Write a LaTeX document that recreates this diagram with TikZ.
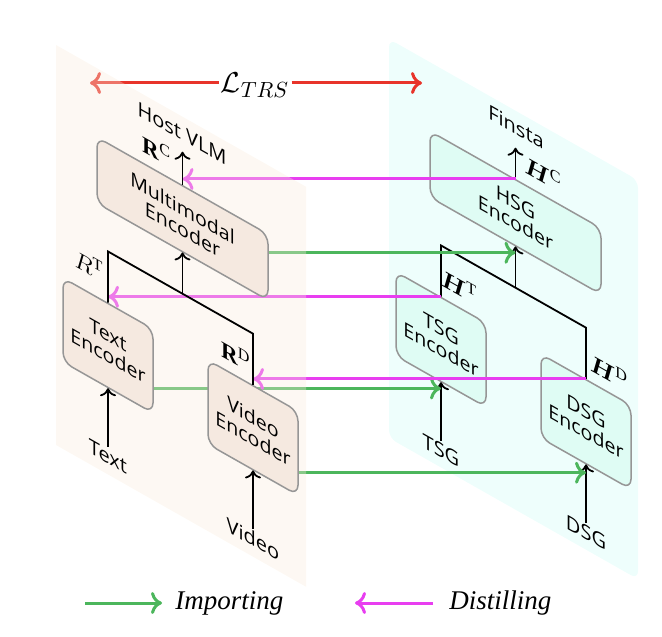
\documentclass[tikz,border=0pt]{standalone}
\usepackage{amsmath}
\usepackage{bm}
\usepackage{fontspec}
\setmainfont{Liberation Serif}
\newfontfamily\sketchfont{Open Sans}
\usetikzlibrary{arrows.meta}
\pgfdeclarelayer{planebg}
\pgfdeclarelayer{arrowlayer}
\pgfsetlayers{planebg,arrowlayer,main}

\definecolor{impgreen}{RGB}{76,182,92}
\definecolor{distmag}{RGB}{232,62,240}
\definecolor{lossred}{RGB}{232,52,42}
\definecolor{hostplane}{RGB}{249,236,220}
\definecolor{finplane}{RGB}{238,254,252}
\definecolor{hostbox}{RGB}{245,233,224}
\definecolor{finbox}{RGB}{223,252,244}
\definecolor{boxline}{RGB}{150,150,150}

\tikzset{
  encbox/.style={draw=boxline, line width=0.75pt, rounded corners=5pt, transform shape,
    align=center, inner sep=0pt, font=\sketchfont\fontsize{9.8}{10.5}\selectfont},
  bigbox/.style={encbox, minimum width=85.5pt, minimum height=33pt},
  smallbox/.style={encbox, minimum width=45pt, minimum height=42pt},
  hostfill/.style={fill=hostbox},
  finfill/.style={fill=finbox},
  sketchlabel/.style={transform shape, inner sep=1pt, font=\sketchfont\fontsize{10}{12}\selectfont},
  mathlabel/.style={transform shape, inner sep=0pt, font=\fontsize{11.5}{13}\selectfont},
  blk/.style={black, line width=0.9pt},
  blkarrow/.style={blk, -{To[length=4pt, width=8pt]}},
  colarrow/.style={line width=1.5pt, -{To[length=5.5pt, width=11pt]}},
  imparrow/.style={colarrow, impgreen},
  distarrow/.style={colarrow, distmag},
  lossarrow/.style={colarrow, lossred},
  legendtext/.style={font=\itshape\fontsize{13.5}{16}\selectfont, inner ysep=0pt},
}

\begin{document}
\begin{tikzpicture}[x=0.5pt, y=0.5pt]
\useasboundingbox (0,0) rectangle (662,636);

% ---------- Host VLM plane (left) ----------
\begin{scope}[shift={(56,591)}, yslant=-0.567]
  \fill[hostplane, fill opacity=0.35] (0,0) rectangle (250,-400);
  \node[sketchlabel] (host) at (126,-17) {Host VLM};
  \node[bigbox, hostfill] (mm) at (126.5,-102) {Multimodal\\Encoder};
  \node[smallbox, hostfill] (txt) at (52,-271) {Text\\Encoder};
  \node[smallbox, hostfill] (vid) at (197,-271) {Video\\Encoder};
  \node[sketchlabel] (textlab) at (52,-382) {Text};
  \node[sketchlabel] (videolab) at (197,-382) {Video};
  \coordinate (lbarL) at (52,-177);
  \coordinate (lbarR) at (197,-177);
  \coordinate (lbarM) at (126.5,-177);
  \coordinate (mmtop) at (126.5,-35);
  \draw[blkarrow] (textlab.north) -- (txt.south);
  \draw[blkarrow] (videolab.north) -- (vid.south);
  \draw[blk] (txt.north) -- (lbarL) -- (lbarR) -- (vid.north);
  \draw[blkarrow] (lbarM) -- (mm.south);
  \draw[blkarrow] (mm.north) -- (mmtop);
  \node[mathlabel] (rc) at (101,-48) {$\mathbf{R}^{\mathrm{C}}$};
  \node[mathlabel] (rt) at (33,-201) {$R^{\mathrm{T}}$};
  \node[mathlabel] (rd) at (180,-208) {$\mathbf{R}^{\mathrm{D}}$};
\end{scope}

% ---------- Finsta plane (right) ----------
\begin{pgfonlayer}{planebg}
\begin{scope}[shift={(389,597)}, yslant=-0.567]
  \fill[finplane, rounded corners=4pt] (0,0) rectangle (249,-399);
  \node[sketchlabel] (finsta) at (127,-16) {Finsta};
  \node[bigbox, finfill] (hsg) at (126.5,-102) {HSG\\Encoder};
  \node[smallbox, finfill] (tsg) at (52,-271) {TSG\\Encoder};
  \node[smallbox, finfill] (dsg) at (197,-271) {DSG\\Encoder};
  \node[sketchlabel] (tsglab) at (52,-382) {TSG};
  \node[sketchlabel] (dsglab) at (197,-382) {DSG};
  \coordinate (rbarL) at (52,-177);
  \coordinate (rbarR) at (197,-177);
  \coordinate (rbarM) at (126.5,-177);
  \coordinate (hsgtop) at (126.5,-37);
  \coordinate (hsgin) at (126.5,-142);
  \coordinate (tsgin) at (52,-320);
  \coordinate (dsgin) at (197,-322);
  \draw[blkarrow] (tsglab.north) -- (tsg.south);
  \draw[blkarrow] (dsglab.north) -- (dsg.south);
  \draw[blk] (tsg.north) -- (rbarL) -- (rbarR) -- (dsg.north);
  \draw[blkarrow] (rbarM) -- (hsg.south);
  \draw[blkarrow] (hsg.north) -- (hsgtop);
  \node[mathlabel] (hc) at (154,-47) {$\bm{H}^{\mathrm{C}}$};
  \node[mathlabel] (ht) at (70,-208) {$\bm{H}^{\mathrm{T}}$};
  \node[mathlabel] (hd) at (220,-208) {$\bm{H}^{\mathrm{D}}$};
\end{scope}
\end{pgfonlayer}

% ---------- loss ----------
\node[inner sep=1pt, font=\fontsize{15}{18}\selectfont] (ltrs) at (255,551) {$\mathcal{L}_{TRS}$};
\coordinate (lossL) at (90,553);
\coordinate (lossR) at (422,553);

% ---------- connectors between the planes ----------
\begin{pgfonlayer}{arrowlayer}
  \draw[lossarrow] (ltrs.west |- lossL) -- (lossL);
  \draw[lossarrow] (ltrs.east |- lossR) -- (lossR);
  \draw[imparrow] (hsgin -| mm.east) -- (hsgin);
  \draw[imparrow] (tsgin -| txt.east) -- (tsgin);
  \draw[imparrow] (dsgin -| vid.east) -- (dsgin);
  \draw[distarrow] (hsg.north) -- (hsg.north -| mm.north);
  \draw[distarrow] (tsg.north) -- (tsg.north -| txt.north);
  \draw[distarrow] (dsg.north) -- (dsg.north -| vid.north);
\end{pgfonlayer}

% ---------- legend ----------
\coordinate (impA) at (85,33);
\node[legendtext, inner xsep=6.5pt, anchor=west] (implab) at (162,33) {Importing};
\draw[imparrow] (impA) -- (implab.west);
\coordinate (distB) at (355,33);
\node[legendtext, inner xsep=8pt, anchor=west] (distlab) at (433,33) {Distilling};
\draw[distarrow] (distlab.west) -- (distB);
\end{tikzpicture}
\end{document}
